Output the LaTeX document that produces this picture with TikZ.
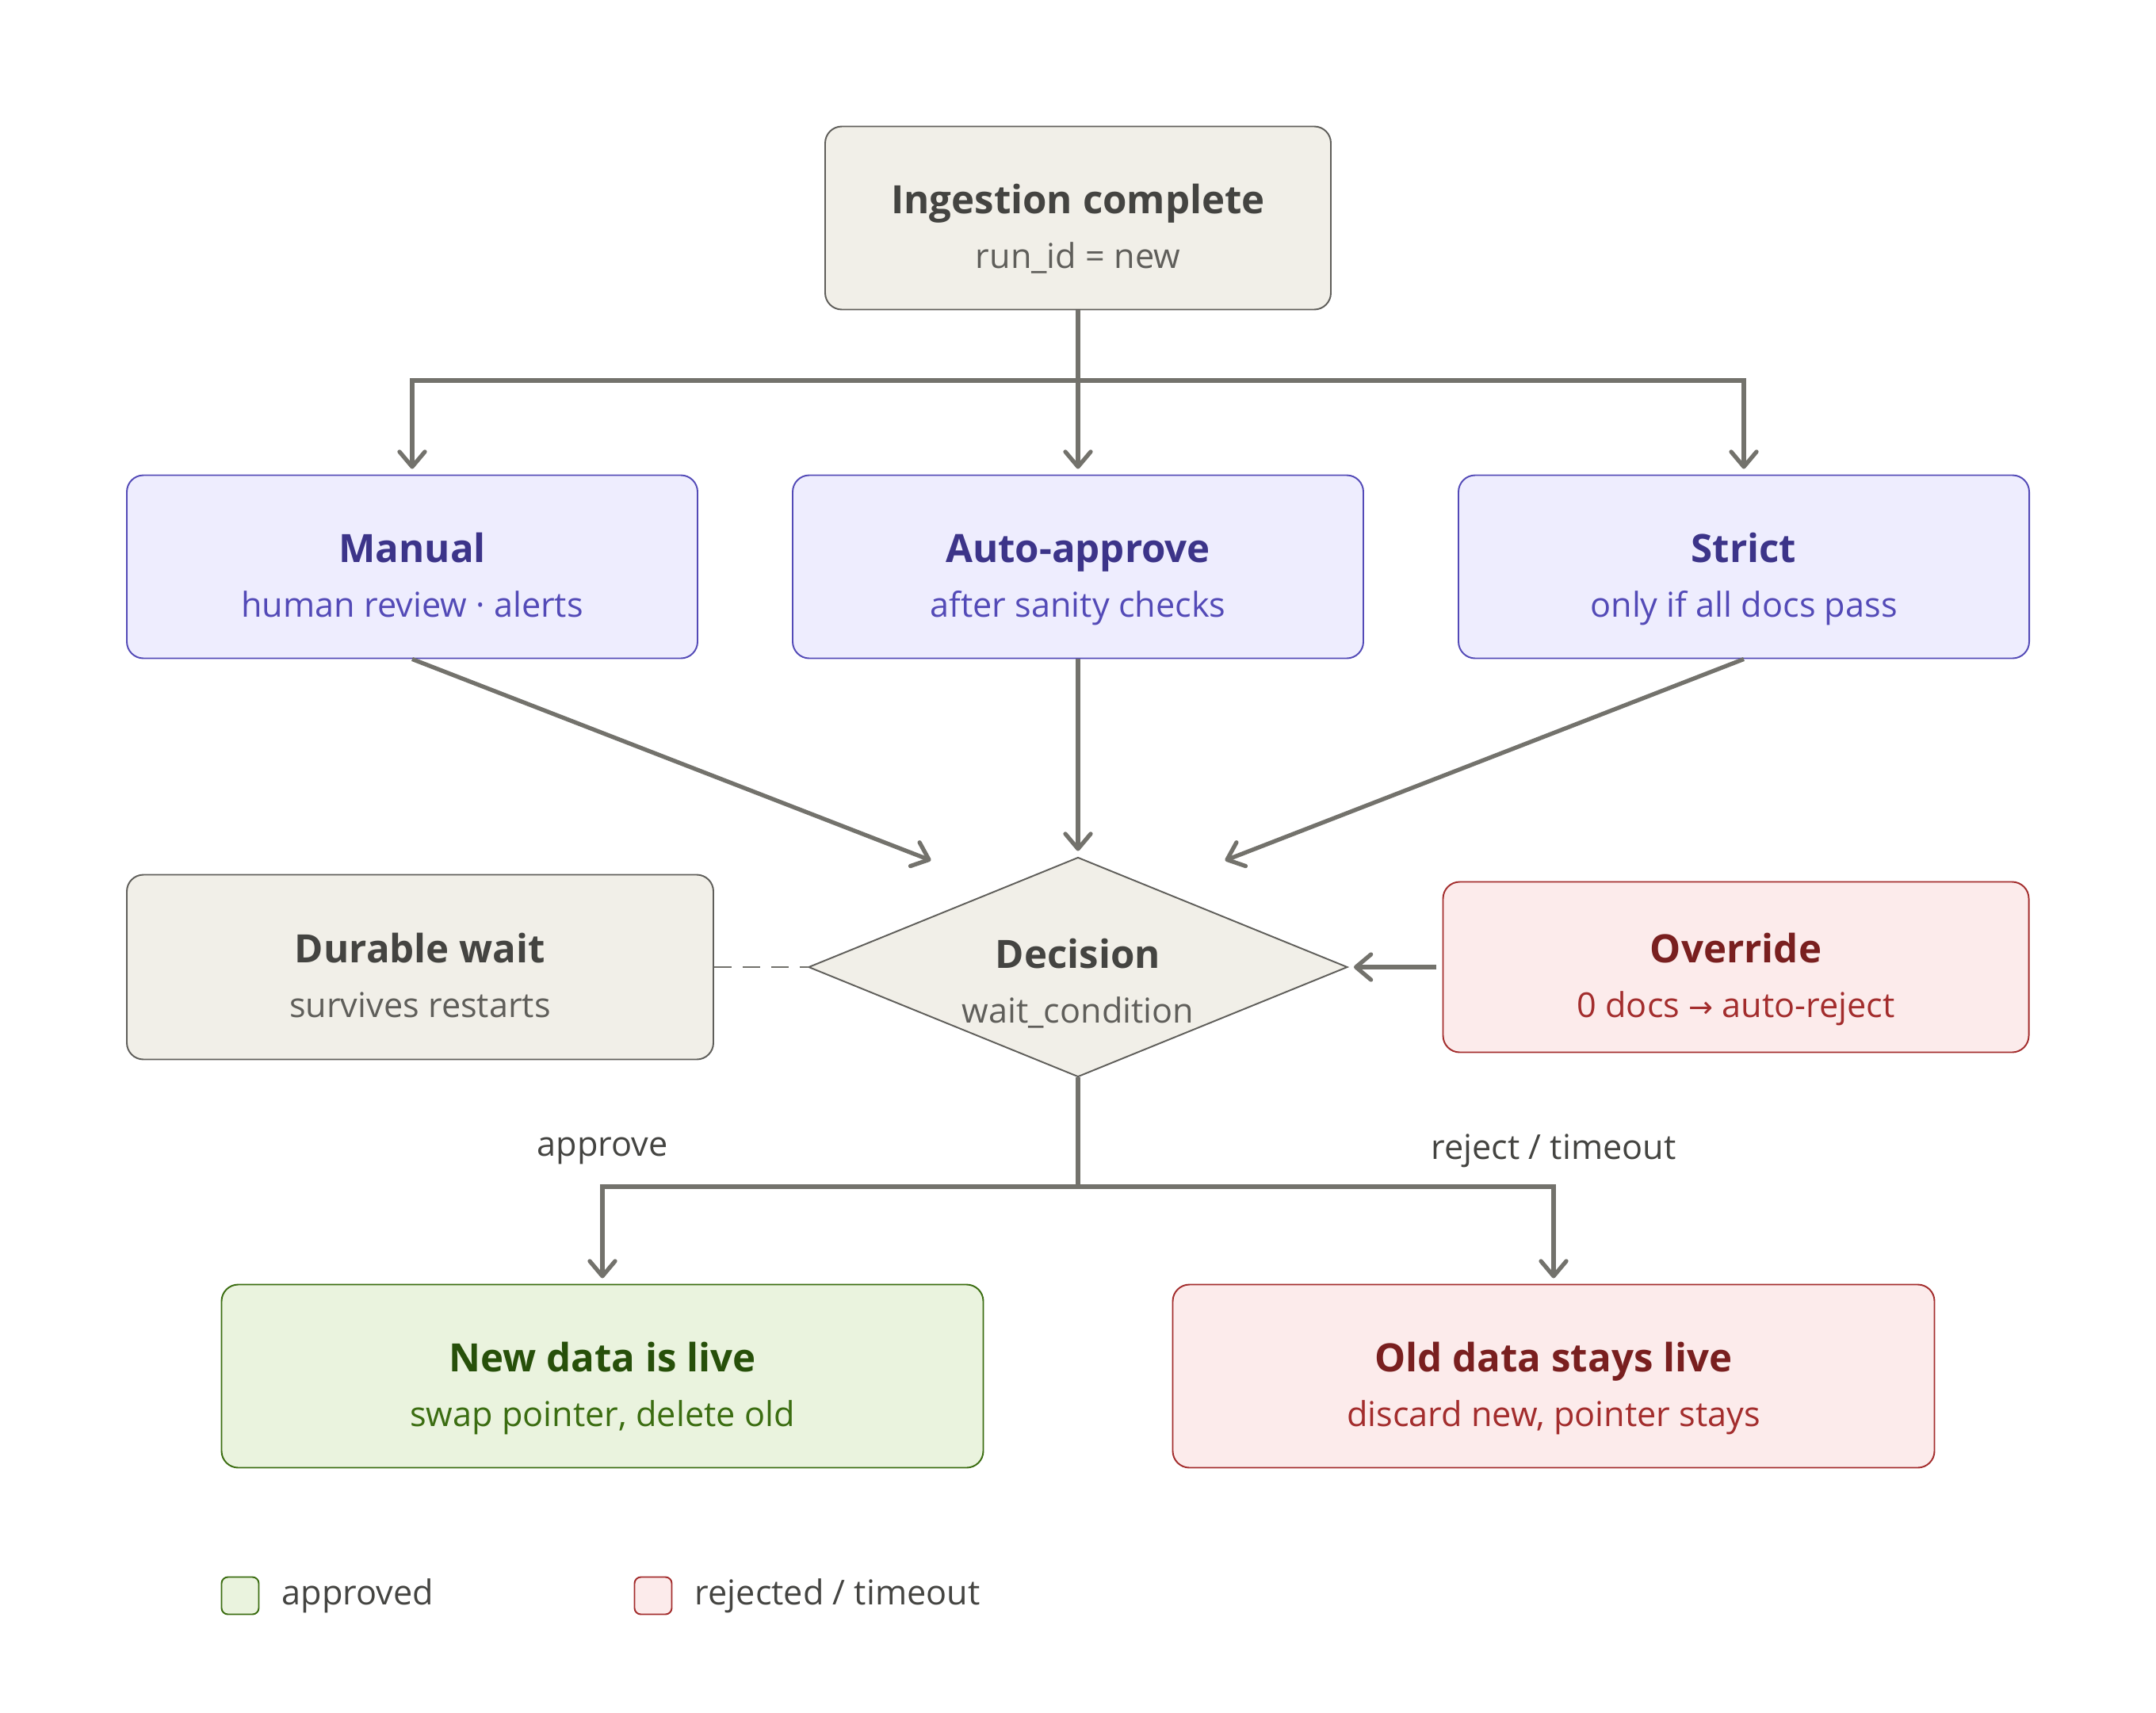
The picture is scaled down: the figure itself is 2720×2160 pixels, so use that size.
\documentclass[tikz,border=0pt]{standalone}
\usepackage{fontspec}
\setmainfont{Open Sans}
\newfontfamily\symfont{DejaVu Sans}
\usetikzlibrary{arrows.meta,shapes.geometric,positioning}

\definecolor{grayfill}{HTML}{F1EFE8}
\definecolor{grayline}{HTML}{5F5E5A}
\definecolor{graytitle}{HTML}{444441}
\definecolor{purplefill}{HTML}{EEEDFE}
\definecolor{purpleline}{HTML}{534AB7}
\definecolor{purpletitle}{HTML}{3C3489}
\definecolor{redfill}{HTML}{FCEBEB}
\definecolor{redline}{HTML}{A32D2D}
\definecolor{redtitle}{HTML}{791F1F}
\definecolor{greenfill}{HTML}{EAF3DE}
\definecolor{greenline}{HTML}{3B6D11}
\definecolor{greentitle}{HTML}{27500A}
\definecolor{flowline}{HTML}{73726C}

\newcommand{\ttl}[2]{\rule{0pt}{20.5pt}\textcolor{#1}{\fontsize{14}{19.5}\selectfont\bfseries #2}}
\newcommand{\sub}[1]{#1\rule[-4pt]{0pt}{4pt}}

\begin{document}
\begin{tikzpicture}[x=0.1mm,y=-0.1mm,
    box/.style={draw, rounded corners=2.1mm, line width=0.55pt, minimum height=23.1mm,
      inner sep=0pt, align=center, font=\fontsize{12.3}{19.5}\selectfont},
    graybox/.style={box, fill=grayfill, draw=grayline, text=grayline},
    purplebox/.style={box, fill=purplefill, draw=purpleline, text=purpleline},
    redbox/.style={box, fill=redfill, draw=redline, text=redline},
    greenbox/.style={box, fill=greenfill, draw=greenline, text=greenline},
    flow/.style={draw=flowline, line width=1.5pt},
    arr/.style={flow, -{Straight Barb[length=1.9mm,width=3.2mm,round]}, shorten >=0.7mm},
    lbl/.style={text=graytitle, font=\fontsize{12.3}{15}\selectfont},
    keybox/.style={draw, rounded corners=0.8mm, line width=0.55pt, minimum size=4.7mm, inner sep=0pt}]
  \useasboundingbox (0,0) rectangle (2720,2160);

  \node[graybox, minimum width=63.8mm] (ing) at (1360,275) {\ttl{graytitle}{Ingestion complete}\\\sub{run\_id = new}};

  \node[purplebox, minimum width=72mm] (man) at (520,715) {\ttl{purpletitle}{Manual}\\\sub{human review · alerts}};
  \node[purplebox, minimum width=72mm] (auto) at (1360,715) {\ttl{purpletitle}{Auto-approve}\\\sub{after sanity checks}};
  \node[purplebox, minimum width=72mm] (strict) at (2200,715) {\ttl{purpletitle}{Strict}\\\sub{only if all docs pass}};

  \node[draw=grayline, fill=grayfill, diamond, inner sep=0pt, line width=0.55pt,
    minimum width=68mm, minimum height=27.7mm] (dec) at (1360,1220) {};
  \node[text=grayline, align=center, inner sep=0pt, font=\fontsize{12.3}{19.5}\selectfont] (dectxt)
    at (dec.center) {\rule{0pt}{24.5pt}\ttl{graytitle}{Decision}\\\sub{wait\_condition}};
  \node[graybox, minimum width=74mm, minimum height=23.3mm] (wait) at (530,1220) {\ttl{graytitle}{Durable wait}\\\sub{survives restarts}};
  \node[redbox, minimum width=73.9mm, minimum height=21.5mm] (ovr) at (2190,1220) {\ttl{redtitle}{Override}\\\sub{0 docs {\symfont\fontsize{10.5}{12}\selectfont →} auto-reject}};

  \node[greenbox, minimum width=96.1mm] (live) at (760,1736) {\ttl{greentitle}{New data is live}\\\sub{swap pointer, delete old}};
  \node[redbox, minimum width=96.1mm] (old) at (1960,1736) {\ttl{redtitle}{Old data stays live}\\\sub{discard new, pointer stays}};

  \node[lbl] (lapp) at (760,1452) {approve};
  \node[lbl] (lrej) at (1960,1452) {reject / timeout};

  % fan out
  \coordinate (split) at (1360,480);
  \draw[flow] (ing.south) -- (split);
  \draw[arr] (split) -| (man.north);
  \draw[arr] (split) -- (auto.north);
  \draw[arr] (split) -| (strict.north);

  % into the decision
  \coordinate (inL) at (1181,1088);
  \coordinate (inR) at (1539,1088);
  \draw[arr] (man.south) -- (inL);
  \draw[arr] (auto.south) -- (dec.north);
  \draw[arr] (strict.south) -- (inR);
  \draw[flowline, line width=0.5pt, dash pattern=on 2.2mm off 1.4mm] (wait.east) -- (dec.west);
  \draw[arr, shorten <=0.8mm] (ovr.west) -- (dec.east);

  % outcomes
  \coordinate (merge) at (1360,1497);
  \draw[flow] (dec.south) -- (merge);
  \draw[arr] (merge) -| (live.north);
  \draw[arr] (merge) -| (old.north);

  % legend
  \node[keybox, draw=greenline, fill=greenfill] (keyA) at (303,2013) {};
  \node[lbl, right=1.6mm of keyA] (keyAt) {approved};
  \node[keybox, draw=redline, fill=redfill] (keyB) at (824,2013) {};
  \node[lbl, right=1.6mm of keyB] (keyBt) {rejected / timeout};
\end{tikzpicture}
\end{document}
